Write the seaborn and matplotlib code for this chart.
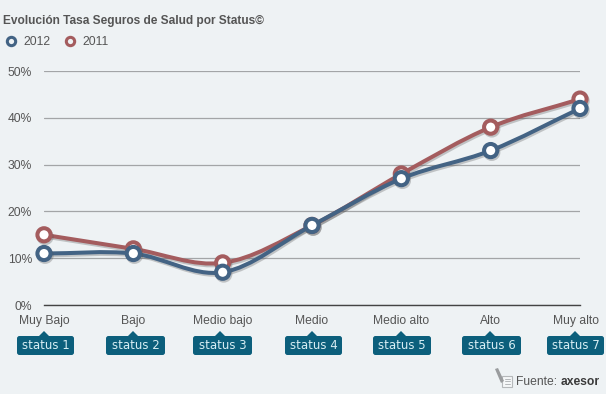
import numpy as np
import pandas as pd
import seaborn as sns
import matplotlib.pyplot as plt
import matplotlib.patheffects as pe
from matplotlib.lines import Line2D
from matplotlib.path import Path
from matplotlib.patches import PathPatch, FancyBboxPatch, Polygon, Rectangle
from matplotlib.transforms import Affine2D, ScaledTranslation

categories = ['Muy Bajo', 'Bajo', 'Medio bajo', 'Medio', 'Medio alto', 'Alto', 'Muy alto']
values_2012 = [11, 11, 7, 17, 27, 33, 42]
values_2011 = [15, 12, 9, 17, 28, 38, 44]
y_ticks = [0, 10, 20, 30, 40, 50]
status_labels = ['status 1', 'status 2', 'status 3', 'status 4', 'status 5', 'status 6', 'status 7']

W, H = 606, 394
BG = '#eef2f4'
COL_2012 = '#436384'
COL_2011 = '#a45c5e'
TEAL = '#0c5f7c'
TXT = '#555555'

sns.set_theme(style='white')
plt.rcParams['font.family'] = ['Liberation Sans', 'DejaVu Sans']

fig = plt.figure(figsize=(W / 100, H / 100), dpi=100, facecolor=BG)
ax = fig.add_axes([44 / W, 1 - 305 / H, 536 / W, 234 / H], facecolor=BG)
# pixel coordinates, origin top left
px = Affine2D().scale(1 / W, -1 / H).translate(0, 1) + fig.transFigure

df = pd.DataFrame({'cat': categories, 'x': range(len(categories)), '2012': values_2012, '2011': values_2011})
long_df = df.melt(id_vars=['cat', 'x'], value_vars=['2011', '2012'], var_name='year', value_name='rate')

shadow = [pe.SimpleLineShadow(offset=(0.8, -1.3), shadow_color='#555555', alpha=0.3), pe.Normal()]


# smooth line through the points, same idea as the original spline
def spline_path(ys):
    xs = np.arange(len(ys), dtype=float)
    ys = np.array(ys, dtype=float)
    slopes = np.gradient(ys, xs)
    verts = [(xs[0], ys[0])]
    codes = [Path.MOVETO]
    for i in range(len(ys) - 1):
        verts.append((xs[i] + 1 / 3, ys[i] + slopes[i] / 3))
        verts.append((xs[i + 1] - 1 / 3, ys[i + 1] - slopes[i + 1] / 3))
        verts.append((xs[i + 1], ys[i + 1]))
        codes += [Path.CURVE4] * 3
    return Path(verts, codes)


for i, (year, color) in enumerate([('2011', COL_2011), ('2012', COL_2012)]):
    ax.add_patch(PathPatch(spline_path(df[year]), fill=False, edgecolor=color, linewidth=2.9,
                           capstyle='round', clip_on=False, zorder=3 + i, path_effects=shadow))
    sns.lineplot(data=long_df[long_df.year == year], x='x', y='rate', ax=ax, color=color, linestyle='',
                 marker='o', markersize=9.5, markeredgewidth=2.9, markeredgecolor=color,
                 markerfacecolor='white', clip_on=False, zorder=3.5 + i, legend=False,
                 path_effects=shadow, errorbar=None)

ax.set_xlim(0, 6)
ax.set_ylim(0, 50)
ax.set_xlabel('')
ax.set_ylabel('')
ax.set_yticks(y_ticks)
ax.set_yticklabels([f'{v}%' for v in y_ticks], fontsize=8.7, color=TXT)
ax.set_xticks(range(len(categories)))
ax.set_xticklabels(categories, fontsize=8.7, color=TXT)
ax.tick_params(axis='y', length=0, pad=8.7)
ax.tick_params(axis='x', length=0, pad=7)
lab = ax.get_xticklabels()[-1]
lab.set_transform(lab.get_transform() + ScaledTranslation(-4 / 100, 0, fig.dpi_scale_trans))

ax.grid(axis='y', color='#a3a5a7', linewidth=0.9)
ax.grid(axis='x', visible=False)
ax.set_axisbelow(True)
sns.despine(ax=ax, left=True, right=True, top=True, bottom=False)
ax.spines['bottom'].set_color('#444444')
ax.spines['bottom'].set_linewidth(1)

fig.text(3 / W, 1 - 21 / H, 'Evolución Tasa Seguros de Salud por Status©', fontsize=8.6, fontweight='bold',
         color=TXT, va='center', ha='left')

handles = [Line2D([], [], color=c, linestyle='', marker='o', markersize=6, markeredgewidth=2.2,
                  markerfacecolor=BG, markeredgecolor=c) for c in (COL_2012, COL_2011)]
fig.legend(handles, ['2012', '2011'], ncol=2, frameon=False, loc='center left',
           bbox_to_anchor=(-8 / W, 1 - 42 / H), fontsize=8.7, labelcolor=TXT, handletextpad=0.2,
           columnspacing=0.85, handlelength=1.6, borderpad=0.3)

# status badges under the axis
badge_left = [17, 106, 193, 285, 373, 462, 547]
badge_w = [57, 59, 59, 57, 58, 59, 57]
tip_x = [44, 133, 220, 312, 401, 490, 575]
for label, left, w, tip in zip(status_labels, badge_left, badge_w, tip_x):
    fig.add_artist(FancyBboxPatch((left + 2, 338), w - 4, 15, boxstyle='round,pad=2,rounding_size=2.5',
                                  facecolor=TEAL, edgecolor='none', transform=px))
    fig.add_artist(Polygon([(tip - 6, 337), (tip, 331), (tip + 6, 337)], facecolor=TEAL, edgecolor='none', transform=px))
    fig.text(left + w / 2, 345.5, label, transform=px, family=['DejaVu Sans'], fontsize=8.5, color='#d8eef4',
             ha='center', va='center')

# source note with little pencil/doc icon
fig.add_artist(Rectangle((502, 376), 10, 11, facecolor='#f5f7f8', edgecolor='#b5b8ba', linewidth=0.8, transform=px))
for ly in (379, 381.5, 384):
    fig.add_artist(Line2D([505, 510], [ly, ly], color='#b5b8ba', linewidth=0.7, transform=px))
fig.add_artist(Polygon([(495, 369), (498, 368), (504, 381), (501, 383)], facecolor='#9a9c9e', edgecolor='none', transform=px))
fig.text(516, 382, 'Fuente:', transform=px, fontsize=8.7, color=TXT, ha='left', va='center')
fig.text(561, 382, 'axesor', transform=px, fontsize=8.7, fontweight='bold', color='#3a3a3a', ha='left', va='center')

fig.savefig('out.png', dpi=100, facecolor=BG)
